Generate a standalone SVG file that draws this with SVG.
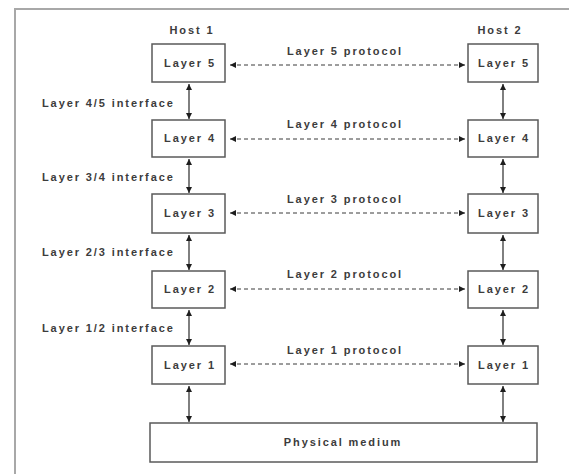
<svg xmlns="http://www.w3.org/2000/svg" width="569" height="474" viewBox="0 0 569 474">
  <style>
    text { font-family: "Liberation Sans", Arial, sans-serif; font-size: 11px; font-weight: bold; fill: #3c3c3c; letter-spacing: 1.9px; }
    .mid { text-anchor: middle; }
    .box { fill: #ffffff; stroke: #5a5a5a; stroke-width: 1.5; }
    .frame { fill: none; stroke: #a8a8a8; stroke-width: 2; }
    .link { stroke: #2a2a2a; stroke-width: 1.2; fill: none; }
    .peer { stroke: #3a3a3a; stroke-width: 1; stroke-dasharray: 4 3; fill: none; }
  </style>
  <defs>
    <marker id="head" viewBox="0 0 10 10" refX="10" refY="5" markerWidth="8" markerHeight="6" markerUnits="userSpaceOnUse" orient="auto-start-reverse">
      <path d="M0,0 L10,5 L0,10 z" fill="#1e1e1e"/>
    </marker>
  </defs>

  <rect width="569" height="474" fill="#ffffff"/>
  <!-- outer frame: top and left borders -->
  <path class="frame" d="M15,474 L15,9 L569,9"/>

  <text class="mid" x="192" y="34">Host 1</text>
  <text class="mid" x="500" y="34">Host 2</text>

  <!-- host 1 stack -->
  <g id="h1-layer5"><rect class="box" x="152" y="44" width="73" height="38"/><text class="mid" x="190" y="67">Layer 5</text></g>
  <g id="h1-layer4"><rect class="box" x="152" y="120" width="73" height="37"/><text class="mid" x="190" y="142">Layer 4</text></g>
  <g id="h1-layer3"><rect class="box" x="152" y="194" width="73" height="39"/><text class="mid" x="190" y="217">Layer 3</text></g>
  <g id="h1-layer2"><rect class="box" x="152" y="271" width="73" height="37"/><text class="mid" x="190" y="293">Layer 2</text></g>
  <g id="h1-layer1"><rect class="box" x="152" y="346" width="73" height="38"/><text class="mid" x="190" y="369">Layer 1</text></g>

  <!-- host 2 stack -->
  <g id="h2-layer5"><rect class="box" x="468" y="44" width="70" height="38"/><text class="mid" x="504" y="67">Layer 5</text></g>
  <g id="h2-layer4"><rect class="box" x="468" y="120" width="70" height="37"/><text class="mid" x="504" y="142">Layer 4</text></g>
  <g id="h2-layer3"><rect class="box" x="468" y="194" width="70" height="39"/><text class="mid" x="504" y="217">Layer 3</text></g>
  <g id="h2-layer2"><rect class="box" x="468" y="271" width="70" height="37"/><text class="mid" x="504" y="293">Layer 2</text></g>
  <g id="h2-layer1"><rect class="box" x="468" y="346" width="70" height="38"/><text class="mid" x="504" y="369">Layer 1</text></g>

  <g id="medium"><rect class="box" x="150" y="423" width="387" height="39"/><text class="mid" x="343" y="446">Physical medium</text></g>

  <!-- interface labels -->
  <text x="42" y="107">Layer 4/5 interface</text>
  <text x="42" y="181">Layer 3/4 interface</text>
  <text x="42" y="256">Layer 2/3 interface</text>
  <text x="42" y="332">Layer 1/2 interface</text>

  <!-- protocol labels -->
  <text class="mid" x="345" y="55">Layer 5 protocol</text>
  <text class="mid" x="345" y="128">Layer 4 protocol</text>
  <text class="mid" x="345" y="203">Layer 3 protocol</text>
  <text class="mid" x="345" y="278">Layer 2 protocol</text>
  <text class="mid" x="345" y="354">Layer 1 protocol</text>

  <g id="connectors">
    <!-- peer protocols -->
    <line class="peer" x1="230" y1="65" x2="465" y2="65" marker-start="url(#head)" marker-end="url(#head)"/>
    <line class="peer" x1="230" y1="139" x2="465" y2="139" marker-start="url(#head)" marker-end="url(#head)"/>
    <line class="peer" x1="230" y1="213" x2="465" y2="213" marker-start="url(#head)" marker-end="url(#head)"/>
    <line class="peer" x1="230" y1="289" x2="465" y2="289" marker-start="url(#head)" marker-end="url(#head)"/>
    <line class="peer" x1="230" y1="364" x2="465" y2="364" marker-start="url(#head)" marker-end="url(#head)"/>

    <!-- host 1 interfaces -->
    <line class="link" x1="189" y1="84" x2="189" y2="119" marker-start="url(#head)" marker-end="url(#head)"/>
    <line class="link" x1="189" y1="159" x2="189" y2="193" marker-start="url(#head)" marker-end="url(#head)"/>
    <line class="link" x1="189" y1="235" x2="189" y2="270" marker-start="url(#head)" marker-end="url(#head)"/>
    <line class="link" x1="189" y1="310" x2="189" y2="345" marker-start="url(#head)" marker-end="url(#head)"/>
    <line class="link" x1="189" y1="386" x2="189" y2="422" marker-start="url(#head)" marker-end="url(#head)"/>

    <!-- host 2 interfaces -->
    <line class="link" x1="503" y1="84" x2="503" y2="119" marker-start="url(#head)" marker-end="url(#head)"/>
    <line class="link" x1="503" y1="159" x2="503" y2="193" marker-start="url(#head)" marker-end="url(#head)"/>
    <line class="link" x1="503" y1="235" x2="503" y2="270" marker-start="url(#head)" marker-end="url(#head)"/>
    <line class="link" x1="503" y1="310" x2="503" y2="345" marker-start="url(#head)" marker-end="url(#head)"/>
    <line class="link" x1="503" y1="386" x2="503" y2="422" marker-start="url(#head)" marker-end="url(#head)"/>
  </g>
</svg>
